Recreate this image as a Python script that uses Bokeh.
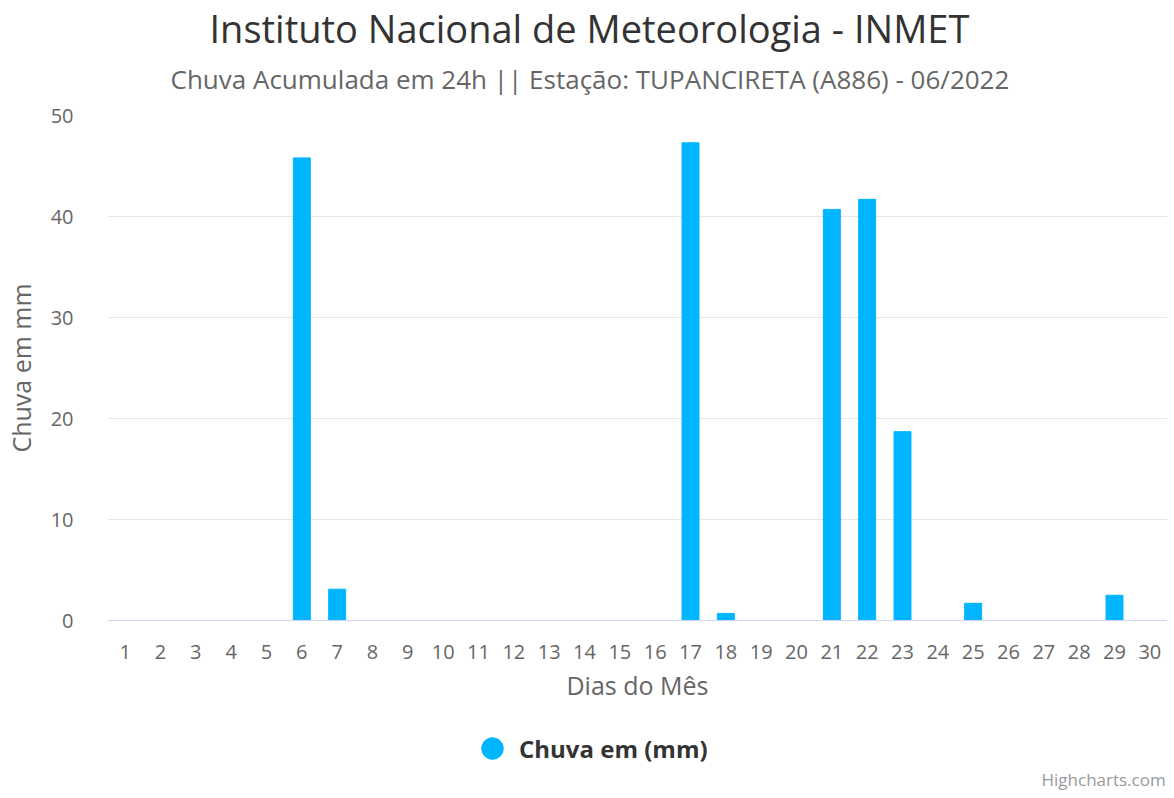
from bokeh.plotting import figure
from bokeh.layouts import column
from bokeh.models import Range1d, FixedTicker, Legend, LegendItem, ColumnDataSource, Title, Label
from bokeh.embed import file_html
from bokeh.resources import INLINE

days = list(range(1, 31))
chuva = [0, 0, 0, 0, 0, 45.8, 3.1, 0, 0, 0,
         0, 0, 0, 0, 0, 0, 47.3, 0.7, 0, 0,
         40.7, 41.7, 18.7, 0, 1.7, 0, 0, 0, 2.5, 0]
y_ticks = [0, 10, 20, 30, 40, 50]
title_text = "Instituto Nacional de Meteorologia - INMET"
subtitle_text = "Chuva Acumulada em 24h || Estação: TUPANCIRETA (A886) - 06/2022"
series_name = "Chuva em (mm)"
x_title = "Dias do Mês"
y_title = "Chuva em mm"
credits = "Highcharts.com"

FONT = "Open Sans"
BAR = "#00b5ff"

FW, FH = 1060, 505
BL, BT = 95, 115
H1 = 710
W2, H2 = 1167, 84

src = ColumnDataSource(dict(x=days, top=chuva))

# ---------------- main chart ----------------
p = figure(height=H1, output_backend="svg", toolbar_location=None, title=None,
           x_range=Range1d(0.5, 30.5), y_range=Range1d(0, 50),
           frame_width=FW, frame_height=FH,
           min_border_left=BL, min_border_right=0, min_border_top=BT,
           min_border_bottom=H1 - BT - FH)
p.outline_line_color = None
p.background_fill_color = "white"
p.border_fill_color = "white"

p.vbar(x="x", top="top", width=0.48, source=src, fill_color=BAR, line_color=BAR, line_width=1)

xa = p.xaxis[0]
xa.ticker = FixedTicker(ticks=days)
xa.axis_line_color = "#ccd6eb"
xa.major_tick_line_color = None
xa.minor_tick_line_color = None
xa.major_label_text_font = FONT
xa.major_label_text_font_size = "20px"
xa.major_label_text_color = "#666666"
xa.major_label_standoff = 18
xa.axis_label = x_title
xa.axis_label_text_font = FONT
xa.axis_label_text_font_size = "25px"
xa.axis_label_text_font_style = "normal"
xa.axis_label_text_color = "#666666"
xa.axis_label_standoff = 6

ya = p.yaxis[0]
ya.ticker = FixedTicker(ticks=y_ticks)
ya.axis_line_color = None
ya.major_tick_line_color = None
ya.minor_tick_line_color = None
ya.major_label_text_font = FONT
ya.major_label_text_font_size = "20px"
ya.major_label_text_color = "#666666"
ya.major_label_standoff = 28
ya.axis_label = y_title
ya.axis_label_text_font = FONT
ya.axis_label_text_font_size = "25px"
ya.axis_label_text_font_style = "normal"
ya.axis_label_text_color = "#666666"
ya.axis_label_standoff = 10

p.xgrid.grid_line_color = None
p.ygrid.grid_line_color = "#e6e6e6"
p.ygrid.grid_line_width = 1

sub = Title(text=subtitle_text, align="left", offset=63, standoff=37,
            text_font=FONT, text_font_size="26px", text_font_style="normal",
            text_color="#666666")
main = Title(text=title_text, align="left", offset=102, standoff=-27,
             text_font=FONT, text_font_size="38px", text_font_style="normal",
             text_color="#333333")
p.add_layout(sub, "above")
p.add_layout(main, "above")

# ---------------- legend / credits strip ----------------
q = figure(width=W2, height=H2, output_backend="svg", toolbar_location=None, title=None,
           x_range=Range1d(0, W2), y_range=Range1d(0, H2),
           x_axis_type=None, y_axis_type=None,
           min_border_left=0, min_border_right=0, min_border_top=0, min_border_bottom=0)
q.outline_line_color = None
q.grid.visible = False
q.background_fill_color = "white"
q.border_fill_color = "white"

dots = q.scatter(x="x", y="top", source=src, size=0, marker="circle",
                 fill_color=BAR, line_color=BAR)

legend = Legend(items=[LegendItem(label=series_name, renderers=[dots])],
                location=(358, 19), orientation="horizontal",
                padding=0, margin=0, spacing=0,
                glyph_width=54, glyph_height=54, label_standoff=0,
                label_text_font=FONT, label_text_font_size="24px",
                label_text_font_style="bold", label_text_color="#333333",
                border_line_color=None, background_fill_alpha=0)
q.add_layout(legend, "center")

q.add_layout(Label(x=W2 - 2, y=15, text=credits, text_font=FONT,
                   text_font_size="17px", text_color="#999999",
                   text_align="right", text_baseline="middle"))

layout = column(p, q, spacing=0)
open("out.html", "w").write(file_html(layout, INLINE))
